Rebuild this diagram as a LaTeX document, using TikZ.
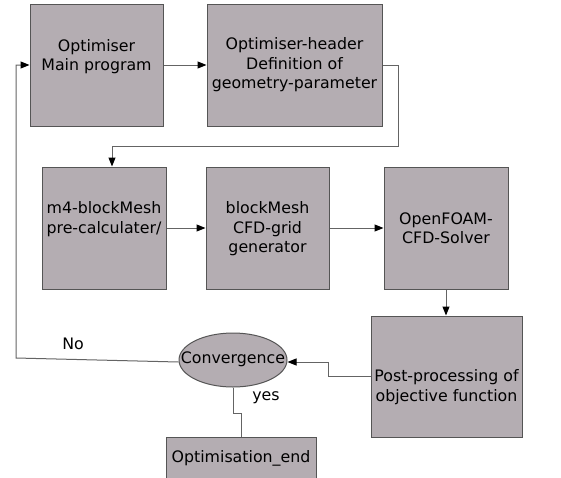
\documentclass[tikz,border=0pt]{standalone}
\usepackage{fontspec}
\setmainfont{DejaVu Sans}
\usetikzlibrary{arrows.meta,shapes.geometric,calc}

\definecolor{boxfill}{RGB}{180,173,178}
\definecolor{edge}{RGB}{85,85,85}
\definecolor{wire}{RGB}{100,100,100}

\tikzset{
  stepbox/.style={draw=edge, fill=boxfill, line width=1pt, rectangle, inner sep=0pt},
  decision/.style={draw=edge, fill=boxfill, line width=1pt, ellipse, inner sep=0pt,
    minimum width=108pt, minimum height=54pt},
  txt/.style={align=center, inner sep=0pt, font=\fontsize{15.8}{19.5}\selectfont},
  conn/.style={draw=wire, line width=1pt},
  flow/.style={conn, -{Triangle[length=9pt,width=7pt,fill=black,color=black]}},
}

\begin{document}
\begin{tikzpicture}[x=1pt, y=-1pt]
  \clip (0,0) rectangle (561,477);
  \fill[white] (0,0) rectangle (561,477);

  % process boxes
  \node[stepbox, minimum width=133pt, minimum height=122pt] (opt)  at (96.5,65)  {};
  \node[stepbox, minimum width=175pt, minimum height=122pt] (hdr)  at (294.5,65) {};
  \node[stepbox, minimum width=124pt, minimum height=122pt] (m4)   at (104,228)  {};
  \node[stepbox, minimum width=123pt, minimum height=122pt] (mesh) at (267.5,228) {};
  \node[stepbox, minimum width=124pt, minimum height=122pt] (foam) at (446,228)  {};
  \node[stepbox, minimum width=151pt, minimum height=121pt] (post) at (446.5,376.5) {};
  \node[stepbox, minimum width=150pt, minimum height=44pt]  (fin)  at (241,459)  {};
  \node[decision] (conv) at (233,360) {};

  % box texts
  \node[txt] at (96.5,56.5) {Optimiser\\Main program};
  \node[txt] at (294.5,65)  {Optimiser-header\\Definition of\\geometry-parameter};
  \node[txt] at (104,219)   {m4-blockMesh\\pre-calculater/};
  \node[txt] at (267.5,229) {blockMesh\\CFD-grid\\generator};
  \node[txt] at (446,228)   {OpenFOAM-\\CFD-Solver};
  \node[txt] at (446.5,387) {Post-processing of\\objective function};
  \node[txt] at (241,458)   {Optimisation\_end};
  \node[txt] at (233,359)   {Convergence};

  % branch labels
  \node[txt] (nolbl)  at (73,344)  {No};
  \node[txt] (yeslbl) at (266,398) {yes};

  % connectors
  \draw[flow] (opt.east) -- (hdr.west);
  \draw[flow] (hdr.east) -- ++(16,0) -- ++(0,81) -| ([xshift=8pt]m4.north);
  \draw[flow] (m4.east) -- (mesh.west);
  \draw[flow] (mesh.east) -- (foam.west);
  \draw[flow] (foam.south) -- (foam.south |- post.north);
  \draw[flow] ([yshift=0.5pt]post.west) -- ++(-42,0) |- ([yshift=-2pt]conv.east);
  \coordinate (back) at (16,358);
  \draw[flow] ([yshift=-2pt]conv.west) -- (back) |- (opt.west);
  \draw[conn] (conv.south) -- ++(0,26) -| (fin.north);
\end{tikzpicture}
\end{document}
